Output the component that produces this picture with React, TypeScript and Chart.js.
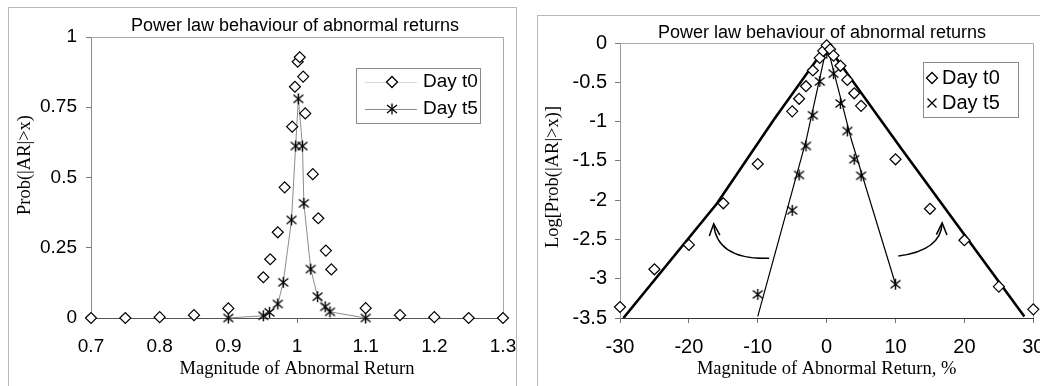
import React, { useEffect, useRef } from 'react';
import { Chart, registerables } from 'chart.js';
Chart.register(...registerables);

// ---------- shared text ----------
const CHART_TITLE = 'Power law behaviour of abnormal returns';
const SERIES_NAMES = ['Day t0', 'Day t5'];
const LEFT_X_TITLE = 'Magnitude of Abnormal Return';
const LEFT_Y_TITLE = 'Prob(|AR|>x)';
const RIGHT_X_TITLE = 'Magnitude of Abnormal Return, %';
const RIGHT_Y_TITLE = 'Log[Prob(|AR|>x)]';

// ---------- left panel data ----------
const L_T0_X = [0.7, 0.75, 0.8, 0.85, 0.9, 0.951, 0.961, 0.972, 0.982, 0.993, 0.997, 1.001, 1.004, 1.009, 1.012, 1.023, 1.031, 1.042, 1.05, 1.1, 1.15, 1.2, 1.25, 1.3];
const L_T0_Y = [0, 0, 0.003, 0.01, 0.034, 0.145, 0.209, 0.305, 0.465, 0.681, 0.823, 0.912, 0.928, 0.859, 0.728, 0.512, 0.355, 0.24, 0.173, 0.035, 0.01, 0.003, 0, 0];
const L_T5_X = [0.9, 0.951, 0.96, 0.972, 0.98, 0.992, 0.998, 1.002, 1.008, 1.01, 1.02, 1.03, 1.041, 1.048, 1.1];
const L_T5_Y = [0, 0.008, 0.02, 0.05, 0.127, 0.349, 0.612, 0.78, 0.612, 0.408, 0.174, 0.076, 0.04, 0.022, 0];
const L_X_TICKS = [0.7, 0.8, 0.9, 1, 1.1, 1.2, 1.3];
const L_X_LABELS = ['0.7', '0.8', '0.9', '1', '1.1', '1.2', '1.3'];
const L_Y_TICKS = [0, 0.25, 0.5, 0.75, 1];
const L_Y_LABELS = ['0', '0.25', '0.5', '0.75', '1'];

// ---------- right panel data ----------
const R_T0_X = [-30, -25, -20, -15, -10, -5, -4, -3, -2, -1, -0.5, 0, 0.5, 1, 2, 3, 4, 5, 10, 15, 20, 25, 30];
const R_T0_Y = [-3.36, -2.88, -2.57, -2.04, -1.54, -0.87, -0.71, -0.55, -0.35, -0.19, -0.1, -0.03, -0.08, -0.16, -0.29, -0.47, -0.64, -0.8, -1.48, -2.11, -2.51, -3.1, -3.39];
const R_T5_X = [-10, -5, -4, -3, -2, -1, 0, 1, 2, 3, 4, 5, 10];
const R_T5_Y = [-3.2, -2.13, -1.68, -1.31, -0.92, -0.49, -0.13, -0.39, -0.77, -1.12, -1.48, -1.69, -3.07];
// fitted trend lines
const R_FIT0_X = [-29.5, -15.9, -7.7, 0.05, 10.8, 28.7];
const R_FIT0_Y = [-3.5, -2.04, -0.98, -0.03, -1.34, -3.48];
const R_FIT5_X = [-10, -2.97, 0.05, 3.6, 10];
const R_FIT5_Y = [-3.48, -1.235, -0.03, -1.235, -3.07];
const R_X_TICKS = [-30, -20, -10, 0, 10, 20, 30];
const R_X_LABELS = ['-30', '-20', '-10', '0', '10', '20', '30'];
const R_Y_TICKS = [-3.5, -3, -2.5, -2, -1.5, -1, -0.5, 0];
const R_Y_LABELS = ['-3.5', '-3', '-2.5', '-2', '-1.5', '-1', '-0.5', '0'];
// curved annotation arrows (start, control, tip) in data units
const ARROW_LEFT = [[-8.35, -2.74], [-16.0, -2.76], [-16.4, -2.3]];
const ARROW_RIGHT = [[10.41, -2.71], [16.6, -2.64], [16.77, -2.29]];

const SANS = '"Liberation Sans", Arial, Helvetica, sans-serif';
const SERIF = '"Liberation Serif", "Times New Roman", serif';

const pts = (xs: number[], ys: number[]) => xs.map((x, i) => ({ x, y: ys[i] }));

function strokeAsterisk(ctx: CanvasRenderingContext2D, x: number, y: number, r: number) {
  const dx = r * 0.9, dy = r * 0.72;
  ctx.beginPath();
  ctx.moveTo(x, y - r); ctx.lineTo(x, y + r);
  ctx.moveTo(x - dx, y - dy); ctx.lineTo(x + dx, y + dy);
  ctx.moveTo(x - dx, y + dy); ctx.lineTo(x + dx, y - dy);
  ctx.stroke();
}
function strokeCross(ctx: CanvasRenderingContext2D, x: number, y: number, r: number) {
  ctx.beginPath();
  ctx.moveTo(x - r, y - r); ctx.lineTo(x + r, y + r);
  ctx.moveTo(x - r, y + r); ctx.lineTo(x + r, y - r);
  ctx.stroke();
}
function diamond(ctx: CanvasRenderingContext2D, x: number, y: number, r: number) {
  ctx.beginPath();
  ctx.moveTo(x - r, y); ctx.lineTo(x, y - r); ctx.lineTo(x + r, y); ctx.lineTo(x, y + r);
  ctx.closePath();
  ctx.fillStyle = '#fff'; ctx.fill();
  ctx.stroke();
}
function makeAsteriskCanvas(r: number) {
  const c = document.createElement('canvas');
  const s = Math.ceil(r * 2 + 4);
  c.width = s; c.height = s;
  const ctx = c.getContext('2d')!;
  ctx.strokeStyle = '#000';
  ctx.lineWidth = 1.4;
  strokeAsterisk(ctx, s / 2, s / 2, r);
  return c;
}

type Extras = {
  panel: [number, number, number, number];
  title: [number, number];
  xTitle: string; xTitleY: number; xFont: number;
  yTitle: string; yTitlePos: [number, number];
  legend: { box: [number, number, number, number]; rows: number[]; markerX: number; textX: number; font: number; lineFrom?: number; lineTo?: number; t5Cross: boolean };
  arrows?: number[][][];
};

function makeExtras(cfg: Extras) {
  return {
    id: 'extras',
    beforeDraw(chart: any) {
      const ctx = chart.ctx as CanvasRenderingContext2D;
      ctx.save();
      ctx.fillStyle = '#fff';
      ctx.fillRect(0, 0, chart.width, chart.height);
      ctx.strokeStyle = '#b8b8b8';
      ctx.lineWidth = 1;
      const [px, py, pw, ph] = cfg.panel;
      ctx.strokeRect(px + 0.5, py + 0.5, pw, ph);
      ctx.restore();
    },
    beforeDatasetsDraw(chart: any) {
      const ctx = chart.ctx as CanvasRenderingContext2D;
      const a = chart.chartArea;
      ctx.save();
      ctx.strokeStyle = '#a8a8a8';
      ctx.lineWidth = 1;
      ctx.beginPath();
      ctx.moveTo(a.left, Math.round(a.top) + 0.5);
      ctx.lineTo(Math.round(a.right) + 0.5, Math.round(a.top) + 0.5);
      ctx.lineTo(Math.round(a.right) + 0.5, a.bottom);
      ctx.stroke();
      ctx.restore();
    },
    afterDraw(chart: any) {
      const ctx = chart.ctx as CanvasRenderingContext2D;
      const xs = chart.scales.x, ys = chart.scales.y;
      ctx.save();
      ctx.fillStyle = '#000';
      // chart title
      ctx.font = `18px ${SANS}`;
      ctx.textAlign = 'center';
      ctx.textBaseline = 'middle';
      ctx.fillText(CHART_TITLE, cfg.title[0], cfg.title[1]);
      // x title
      ctx.font = `${cfg.xFont}px ${SERIF}`;
      const a = chart.chartArea;
      ctx.fillText(cfg.xTitle, (a.left + a.right) / 2, cfg.xTitleY);
      // y title
      ctx.save();
      ctx.translate(cfg.yTitlePos[0], cfg.yTitlePos[1]);
      ctx.rotate(-Math.PI / 2);
      ctx.fillText(cfg.yTitle, 0, 0);
      ctx.restore();
      // arrows
      if (cfg.arrows) {
        ctx.strokeStyle = '#000';
        ctx.lineWidth = 1.5;
        for (const ar of cfg.arrows) {
          const p = ar.map(([dx, dy]) => [xs.getPixelForValue(dx), ys.getPixelForValue(dy)]);
          ctx.beginPath();
          ctx.moveTo(p[0][0], p[0][1]);
          ctx.quadraticCurveTo(p[1][0], p[1][1], p[2][0], p[2][1]);
          ctx.stroke();
          const ang = Math.atan2(p[2][1] - p[1][1], p[2][0] - p[1][0]);
          const L = 13, spread = 0.42;
          ctx.beginPath();
          ctx.moveTo(p[2][0] - L * Math.cos(ang - spread), p[2][1] - L * Math.sin(ang - spread));
          ctx.lineTo(p[2][0], p[2][1]);
          ctx.lineTo(p[2][0] - L * Math.cos(ang + spread), p[2][1] - L * Math.sin(ang + spread));
          ctx.stroke();
        }
      }
      // legend
      const lg = cfg.legend;
      const [bx, by, bw, bh] = lg.box;
      ctx.fillStyle = '#fff';
      ctx.fillRect(bx, by, bw, bh);
      ctx.strokeStyle = '#8a8a8a';
      ctx.lineWidth = 1;
      ctx.strokeRect(bx + 0.5, by + 0.5, bw, bh);
      ctx.font = `${lg.font}px ${SANS}`;
      ctx.textAlign = 'left';
      ctx.textBaseline = 'middle';
      lg.rows.forEach((ry, i) => {
        if (lg.lineFrom !== undefined && lg.lineTo !== undefined) {
          ctx.strokeStyle = i === 0 ? '#d8d8d8' : '#8a8a8a';
          ctx.lineWidth = 1;
          ctx.beginPath();
          ctx.moveTo(lg.lineFrom, ry + 0.5);
          ctx.lineTo(lg.lineTo, ry + 0.5);
          ctx.stroke();
        }
        ctx.strokeStyle = '#000';
        ctx.lineWidth = 1.3;
        if (i === 0) diamond(ctx, lg.markerX, ry, 5.5);
        else if (lg.t5Cross) strokeCross(ctx, lg.markerX, ry, 4.5);
        else strokeAsterisk(ctx, lg.markerX, ry, 5.5);
        ctx.fillStyle = '#000';
        ctx.fillText(SERIES_NAMES[i], lg.textX, ry);
      });
      ctx.restore();
    },
  };
}

function scaleOpts(min: number, max: number, ticks: number[], labels: string[], size: number, pad: number, fontSize: number, horizontal: boolean, borderColor: string) {
  return {
    type: 'linear' as const,
    min, max,
    afterBuildTicks: (s: any) => { s.ticks = ticks.map((v) => ({ value: v })); },
    afterFit: (s: any) => {
      if (horizontal) s.height = size; else s.width = size;
      s.paddingLeft = 0; s.paddingRight = 0; s.paddingTop = 0; s.paddingBottom = 0;
    },
    ticks: {
      callback: (_v: any, i: number) => labels[i],
      font: { family: SANS, size: fontSize },
      color: '#000',
      padding: pad,
      autoSkip: false,
      maxRotation: 0,
      minRotation: 0,
    },
    grid: { drawOnChartArea: false, drawTicks: true, tickLength: 5, color: '#777' },
    border: { color: borderColor, width: 1 },
  };
}

export default function App() {
  const lRef = useRef<HTMLCanvasElement>(null);
  const rRef = useRef<HTMLCanvasElement>(null);

  useEffect(() => {
    const star = makeAsteriskCanvas(5.5);

    const left = new Chart(lRef.current!, {
      type: 'scatter',
      data: {
        datasets: [
          {
            label: SERIES_NAMES[0],
            data: pts(L_T0_X, L_T0_Y),
            showLine: false,
            pointStyle: 'rectRot',
            pointRadius: 5.5,
            pointBackgroundColor: '#fff',
            pointBorderColor: '#000',
            pointBorderWidth: 1.2,
            clip: false,
            order: 0,
          },
          {
            label: SERIES_NAMES[1],
            data: pts(L_T5_X, L_T5_Y),
            showLine: true,
            borderColor: '#8c8c8c',
            borderWidth: 1,
            tension: 0,
            pointStyle: star as any,
            pointRadius: 5,
            clip: false,
            order: 1,
          },
        ],
      },
      options: {
        responsive: false,
        animation: false,
        events: [],
        layout: { padding: { left: 31, right: 17, top: 37, bottom: 0 } },
        plugins: { legend: { display: false }, title: { display: false }, tooltip: { enabled: false } },
        scales: {
          x: scaleOpts(0.7, 1.3, L_X_TICKS, L_X_LABELS, 68, 12, 19, true, '#555') as any,
          y: scaleOpts(0, 1, L_Y_TICKS, L_Y_LABELS, 60, 9, 19, false, '#888') as any,
        },
      },
      plugins: [
        makeExtras({
          panel: [8, 7, 508, 420],
          title: [295, 26],
          xTitle: LEFT_X_TITLE, xTitleY: 369, xFont: 18.5,
          yTitle: LEFT_Y_TITLE, yTitlePos: [25, 165],
          legend: { box: [356, 68, 124, 55], rows: [82, 109], markerX: 392, textX: 423, font: 19, lineFrom: 365, lineTo: 417, t5Cross: false },
        }) as any,
      ],
    });

    const right = new Chart(rRef.current!, {
      type: 'scatter',
      data: {
        datasets: [
          {
            label: SERIES_NAMES[0],
            data: pts(R_T0_X, R_T0_Y),
            showLine: false,
            pointStyle: 'rectRot',
            pointRadius: 5.5,
            pointBackgroundColor: '#fff',
            pointBorderColor: '#000',
            pointBorderWidth: 1.2,
            clip: false,
            order: 0,
          },
          {
            label: SERIES_NAMES[1],
            data: pts(R_T5_X, R_T5_Y),
            showLine: false,
            pointStyle: star as any,
            pointRadius: 5,
            clip: false,
            order: 0,
          },
          {
            label: 'fit t0',
            data: pts(R_FIT0_X, R_FIT0_Y),
            showLine: true,
            borderColor: '#000',
            borderWidth: 2.6,
            tension: 0,
            pointRadius: 0,
            order: 2,
          },
          {
            label: 'fit t5',
            data: pts(R_FIT5_X, R_FIT5_Y),
            showLine: true,
            borderColor: '#000',
            borderWidth: 1.2,
            tension: 0,
            pointRadius: 0,
            order: 2,
          },
        ],
      },
      options: {
        responsive: false,
        animation: false,
        events: [],
        layout: { padding: { left: 30, right: 4.3, top: 43, bottom: 0 } },
        plugins: { legend: { display: false }, title: { display: false }, tooltip: { enabled: false } },
        scales: {
          x: scaleOpts(-30, 30, R_X_TICKS, R_X_LABELS, 68, 12, 20, true, '#333') as any,
          y: scaleOpts(-3.5, 0, R_Y_TICKS, R_Y_LABELS, 70, 8, 20, false, '#999') as any,
        },
      },
      plugins: [
        makeExtras({
          panel: [17, 15, 560, 420],
          title: [302, 33],
          xTitle: RIGHT_X_TITLE, xTitleY: 369, xFont: 18.5,
          yTitle: RIGHT_Y_TITLE, yTitlePos: [33, 177],
          legend: { box: [403, 62, 95, 55], rows: [78, 103], markerX: 412, textX: 422, font: 20, t5Cross: true },
          arrows: [ARROW_LEFT, ARROW_RIGHT],
        }) as any,
      ],
    });

    return () => { left.destroy(); right.destroy(); };
  }, []);

  return (
    <div style={{ position: 'fixed', left: 0, top: 0, width: 1040, height: 386, background: '#fff', overflow: 'hidden' }}>
      <canvas ref={lRef} width={520} height={386} style={{ position: 'absolute', left: 0, top: 0, width: 520, height: 386 }} />
      <canvas ref={rRef} width={520} height={386} style={{ position: 'absolute', left: 520, top: 0, width: 520, height: 386 }} />
    </div>
  );
}
